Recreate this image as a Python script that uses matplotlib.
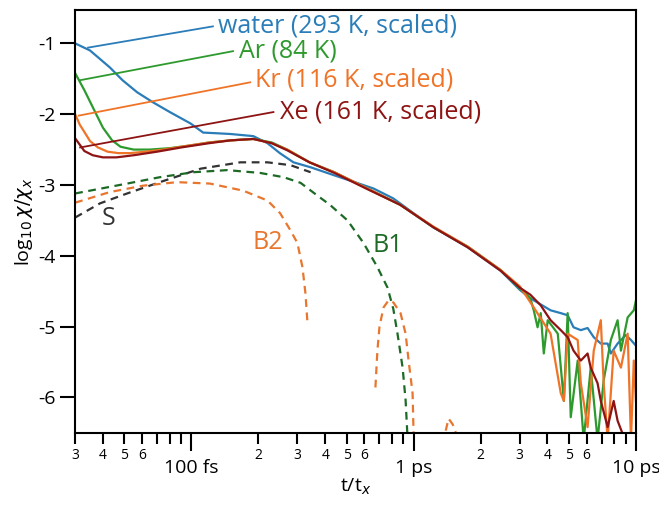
import matplotlib
matplotlib.use('Agg')
import matplotlib.pyplot as plt
from matplotlib.ticker import FixedLocator, FixedFormatter

plt.rcParams['font.family'] = ['Open Sans', 'DejaVu Sans']
plt.rcParams['axes.unicode_minus'] = False

# time in fs, log10 chi/chi_x
water_t = [30, 35, 43, 49, 57, 67, 80, 99, 113, 131, 150, 190, 220, 250, 288, 344, 436, 520, 660, 810,
           1000, 1230, 1750, 2460, 3000, 3350, 4130, 4590, 4930, 5240, 5650, 6060, 6460, 6950, 7460,
           7710, 8270, 9000, 9500, 10000]
water_v = [-1.00, -1.10, -1.34, -1.52, -1.69, -1.83, -1.97, -2.13, -2.26, -2.27, -2.28, -2.31, -2.41,
           -2.55, -2.68, -2.75, -2.86, -2.94, -3.05, -3.19, -3.40, -3.60, -3.88, -4.21, -4.48, -4.60,
           -4.77, -4.81, -4.84, -5.01, -5.05, -5.02, -5.15, -5.24, -5.24, -5.38, -5.24, -5.12, -5.19, -5.27]

ar_t = [30, 33, 36, 40, 44, 48, 55, 65, 80, 100, 120, 150, 190, 230, 270, 340, 440, 620, 870, 1230,
        1750, 2460, 3000, 3350, 3470, 3610, 3730, 3850, 4010, 4450, 4740, 4930, 5090, 5470, 5820,
        6260, 6720, 7160, 7710, 8270, 8560, 9180, 9780, 10000]
ar_v = [-1.42, -1.66, -1.90, -2.19, -2.37, -2.46, -2.50, -2.50, -2.48, -2.44, -2.40, -2.37, -2.35,
        -2.40, -2.50, -2.68, -2.82, -3.05, -3.28, -3.60, -3.87, -4.20, -4.46, -4.60, -4.77, -5.01,
        -4.81, -5.38, -4.91, -5.10, -6.05, -4.81, -6.28, -5.48, -6.60, -5.58, -6.60, -5.76, -5.19,
        -4.91, -5.34, -4.87, -4.77, -4.63]

kr_t = [30, 31.5, 33, 35, 38, 42, 47, 53, 62, 75, 90, 120, 150, 190, 230, 270, 340, 440, 620, 870,
        1230, 1750, 2460, 3000, 3470, 4130, 4590, 4740, 4930, 5470, 5650, 6060, 6460, 6950, 7160,
        7460, 7940, 8560, 9180, 9500, 9780, 10000]
kr_v = [-2.00, -2.15, -2.25, -2.38, -2.47, -2.53, -2.55, -2.55, -2.53, -2.50, -2.46, -2.40, -2.37,
        -2.35, -2.41, -2.50, -2.68, -2.82, -3.05, -3.28, -3.59, -3.87, -4.20, -4.43, -4.73, -5.10,
        -5.94, -6.05, -5.10, -5.19, -5.80, -6.42, -5.34, -4.91, -5.80, -6.60, -5.34, -5.58, -5.10,
        -6.60, -5.48, -6.05]

xe_t = [30, 33, 36, 40, 46, 55, 70, 90, 120, 150, 190, 230, 270, 340, 440, 620, 870, 1230, 1750,
        2460, 3000, 3350, 3730, 4130, 4590, 4930, 5240, 5650, 6060, 6260, 6720, 6950, 7460, 7940,
        8270, 8800]
xe_v = [-2.34, -2.52, -2.58, -2.61, -2.61, -2.58, -2.53, -2.47, -2.41, -2.37, -2.35, -2.41, -2.51,
        -2.68, -2.83, -3.06, -3.28, -3.60, -3.88, -4.21, -4.45, -4.55, -4.70, -4.91, -5.05, -5.15,
        -5.34, -5.48, -5.38, -5.58, -5.80, -6.05, -6.42, -6.05, -6.33, -6.55]

s_t = [30, 38.8, 51.4, 72.2, 110, 166, 220, 279, 344]
s_v = [-3.46, -3.26, -3.12, -2.96, -2.77, -2.68, -2.68, -2.72, -2.82]

b1_t = [30, 51.4, 72.2, 102, 145, 204, 260, 310, 369, 420, 504, 595, 687, 763, 810, 846, 892, 920, 938]
b1_v = [-3.12, -2.98, -2.89, -2.82, -2.79, -2.83, -2.89, -2.97, -3.15, -3.28, -3.50, -3.82, -4.16,
        -4.45, -4.75, -5.10, -5.58, -6.04, -6.55]

b2_t = [30, 43, 60.6, 86.2, 121, 171, 220, 251, 279, 300, 316, 326, 333]
b2_v = [-3.25, -3.10, -3.01, -2.96, -2.98, -3.08, -3.22, -3.40, -3.64, -3.82, -4.16, -4.53, -4.95]
b2b_t = [673, 687, 702, 732, 771, 811, 873, 920, 949, 989, 1000]
b2b_v = [-5.86, -5.34, -5.00, -4.73, -4.63, -4.66, -4.81, -5.10, -5.48, -5.94, -6.55]
b2c_t = [1394, 1436, 1498, 1545]
b2c_v = [-6.47, -6.30, -6.38, -6.49]

c_water = '#2a7db8'
c_ar = '#2e9a2e'
c_kr = '#f07428'
c_xe = '#8e1414'
c_s = '#333333'
c_b1 = '#1d6a26'
c_b2 = '#e8762e'

fig = plt.figure(figsize=(6.59, 5.05), dpi=100)
ax = fig.add_axes([0.114, 0.143, 0.851, 0.837])

dash = (3.5, 2.5)
ax.plot(s_t, s_v, color=c_s, lw=1.6, dashes=dash)
ax.plot(b1_t, b1_v, color=c_b1, lw=1.6, dashes=dash)
ax.plot(b2_t, b2_v, color=c_b2, lw=1.6, dashes=dash)
ax.plot(b2b_t, b2b_v, color=c_b2, lw=1.6, dashes=dash)
ax.plot(b2c_t, b2c_v, color=c_b2, lw=1.6, dashes=dash)

ax.plot(water_t, water_v, color=c_water, lw=1.6)
ax.plot(ar_t, ar_v, color=c_ar, lw=1.6)
ax.plot(kr_t, kr_v, color=c_kr, lw=1.6)
ax.plot(xe_t, xe_v, color=c_xe, lw=1.6)

# leader lines and labels
labels = [
    ('water (293 K, scaled)', c_water, (34.3, -1.06), (125, -0.76), (132, -0.76)),
    ('Ar (84 K)', c_ar, (31.6, -1.52), (154, -1.11), (163, -1.11)),
    ('Kr (116 K, scaled)', c_kr, (31.2, -2.02), (184, -1.55), (194, -1.52)),
    ('Xe (161 K, scaled)', c_xe, (31.6, -2.47), (234, -1.97), (251, -1.97)),
]
for txt, col, p0, p1, pt in labels:
    ax.plot([p0[0], p1[0]], [p0[1], p1[1]], color=col, lw=1.3)
    ax.text(pt[0], pt[1], txt, color=col, fontsize=18, va='center', ha='left')

ax.text(42.3, -3.47, 'S', color=c_s, fontsize=18, ha='center', va='center')
ax.text(220, -3.81, 'B2', color=c_b2, fontsize=18, ha='center', va='center')
ax.text(762, -3.85, 'B1', color=c_b1, fontsize=18, ha='center', va='center')

ax.set_xscale('log')
ax.set_xlim(30, 10000)
ax.set_ylim(-6.5, -0.53)

ax.xaxis.set_major_locator(FixedLocator([100, 1000, 10000]))
ax.xaxis.set_major_formatter(FixedFormatter(['100 fs', '1 ps', '10 ps']))
minor_pos = [30, 40, 50, 60, 70, 80, 90,
             200, 300, 400, 500, 600, 700, 800, 900,
             2000, 3000, 4000, 5000, 6000, 7000, 8000, 9000]
minor_lab = ['3', '4', '5', '6', '', '', '',
             '2', '3', '4', '5', '6', '', '', '',
             '2', '3', '4', '5', '6', '', '', '']
ax.xaxis.set_minor_locator(FixedLocator(minor_pos))
ax.xaxis.set_minor_formatter(FixedFormatter(minor_lab))

ax.set_yticks([-1, -2, -3, -4, -5, -6])
ax.set_yticklabels(['-1', '-2', '-3', '-4', '-5', '-6'])

ax.tick_params(axis='x', which='major', length=13, width=1.5, pad=6, labelsize=14)
ax.tick_params(axis='x', which='minor', length=8, width=1.5, pad=3, labelsize=10)
ax.tick_params(axis='y', which='major', length=11, width=1.5, pad=3, labelsize=14)
ax.tick_params(axis='y', which='minor', left=False)

for sp in ax.spines.values():
    sp.set_linewidth(1.5)

ax.set_xlabel(r't/t$_x$', fontsize=14, labelpad=0)
ax.set_ylabel(r'log$_{10}\,\chi/\chi_x$', fontsize=14, labelpad=2)

fig.savefig('out.png', dpi=100)
